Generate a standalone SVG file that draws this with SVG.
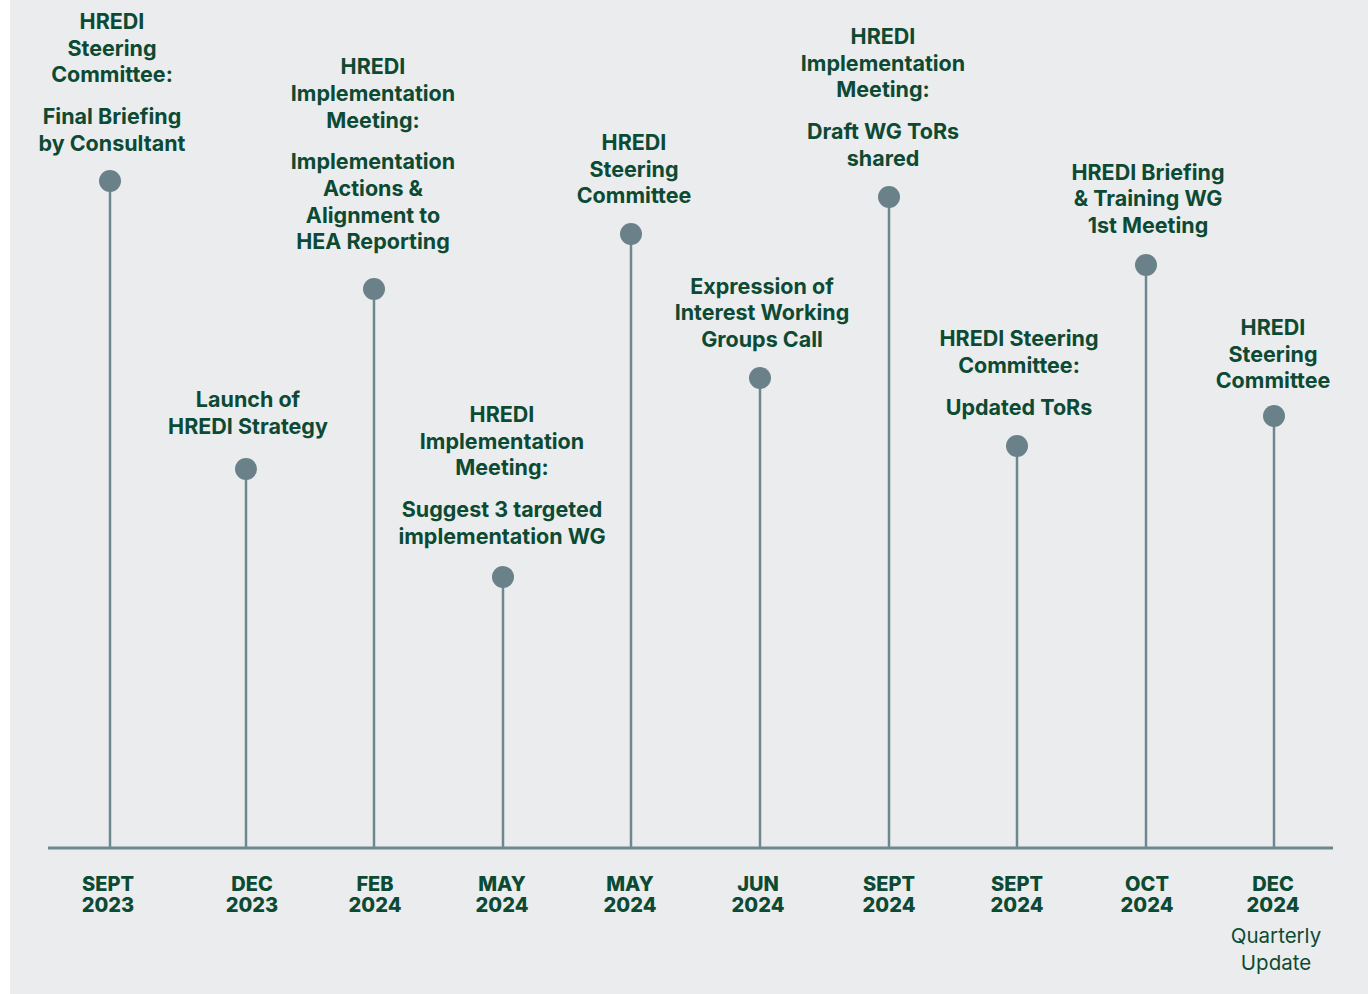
<svg xmlns="http://www.w3.org/2000/svg" width="1368" height="994" viewBox="0 0 1368 994">
<style>
.bg{fill:#ebecee}
.stem{stroke:#6e8890;stroke-width:2.5;fill:none}
.axis{stroke:#6e8890;stroke-width:3;fill:none}
.dot{fill:#6b8189}
.lbl{font-family:Inter,"Noto Sans",sans-serif;font-weight:700;font-size:21.5px;fill:#0d4a33;text-anchor:middle}
.date{font-family:Inter,"Noto Sans",sans-serif;font-weight:800;font-size:20px;fill:#0d4a33;text-anchor:middle}
.note{font-family:Inter,"Noto Sans",sans-serif;font-weight:400;font-size:20.5px;fill:#0d4a33;text-anchor:middle}
</style>
<rect x="0" y="0" width="1368" height="994" fill="#ffffff"/>
<rect class="bg" x="10" y="0" width="1358" height="994"/>
<g id="connectors">
<line class="axis" x1="48" y1="848" x2="1333" y2="848"/>
<line class="stem" x1="110" y1="181" x2="110" y2="848"/>
<line class="stem" x1="246" y1="469" x2="246" y2="848"/>
<line class="stem" x1="374" y1="289" x2="374" y2="848"/>
<line class="stem" x1="503" y1="577" x2="503" y2="848"/>
<line class="stem" x1="631" y1="234" x2="631" y2="848"/>
<line class="stem" x1="760" y1="378" x2="760" y2="848"/>
<line class="stem" x1="889" y1="197" x2="889" y2="848"/>
<line class="stem" x1="1017" y1="446" x2="1017" y2="848"/>
<line class="stem" x1="1146" y1="265" x2="1146" y2="848"/>
<line class="stem" x1="1274" y1="416" x2="1274" y2="848"/>
</g>
<g id="n1">
<circle class="dot" cx="110" cy="181" r="11"/>
<text class="lbl"><tspan x="112" y="29">HREDI</tspan><tspan x="112" y="56">Steering</tspan><tspan x="112" y="82">Committee:</tspan><tspan x="112" y="124">Final Briefing</tspan><tspan x="112" y="151">by Consultant</tspan></text>
<text class="date"><tspan x="108" y="891">SEPT</tspan><tspan x="108" y="912">2023</tspan></text>
</g>
<g id="n2">
<circle class="dot" cx="246" cy="469" r="11"/>
<text class="lbl"><tspan x="248" y="407">Launch of</tspan><tspan x="248" y="434">HREDI Strategy</tspan></text>
<text class="date"><tspan x="252" y="891">DEC</tspan><tspan x="252" y="912">2023</tspan></text>
</g>
<g id="n3">
<circle class="dot" cx="374" cy="289" r="11"/>
<text class="lbl"><tspan x="373" y="74">HREDI</tspan><tspan x="373" y="101">Implementation</tspan><tspan x="373" y="128">Meeting:</tspan><tspan x="373" y="169">Implementation</tspan><tspan x="373" y="196">Actions &amp;</tspan><tspan x="373" y="223">Alignment to</tspan><tspan x="373" y="249">HEA Reporting</tspan></text>
<text class="date"><tspan x="375" y="891">FEB</tspan><tspan x="375" y="912">2024</tspan></text>
</g>
<g id="n4">
<circle class="dot" cx="503" cy="577" r="11"/>
<text class="lbl"><tspan x="502" y="422">HREDI</tspan><tspan x="502" y="449">Implementation</tspan><tspan x="502" y="475">Meeting:</tspan><tspan x="502" y="517">Suggest 3 targeted</tspan><tspan x="502" y="544">implementation WG</tspan></text>
<text class="date"><tspan x="502" y="891">MAY</tspan><tspan x="502" y="912">2024</tspan></text>
</g>
<g id="n5">
<circle class="dot" cx="631" cy="234" r="11"/>
<text class="lbl"><tspan x="634" y="150">HREDI</tspan><tspan x="634" y="177">Steering</tspan><tspan x="634" y="203">Committee</tspan></text>
<text class="date"><tspan x="630" y="891">MAY</tspan><tspan x="630" y="912">2024</tspan></text>
</g>
<g id="n6">
<circle class="dot" cx="760" cy="378" r="11"/>
<text class="lbl"><tspan x="762" y="294">Expression of</tspan><tspan x="762" y="320">Interest Working</tspan><tspan x="762" y="347">Groups Call</tspan></text>
<text class="date"><tspan x="758" y="891">JUN</tspan><tspan x="758" y="912">2024</tspan></text>
</g>
<g id="n7">
<circle class="dot" cx="889" cy="197" r="11"/>
<text class="lbl"><tspan x="883" y="44">HREDI</tspan><tspan x="883" y="71">Implementation</tspan><tspan x="883" y="97">Meeting:</tspan><tspan x="883" y="139">Draft WG ToRs</tspan><tspan x="883" y="166">shared</tspan></text>
<text class="date"><tspan x="889" y="891">SEPT</tspan><tspan x="889" y="912">2024</tspan></text>
</g>
<g id="n8">
<circle class="dot" cx="1017" cy="446" r="11"/>
<text class="lbl"><tspan x="1019" y="346">HREDI Steering</tspan><tspan x="1019" y="373">Committee:</tspan><tspan x="1019" y="415">Updated ToRs</tspan></text>
<text class="date"><tspan x="1017" y="891">SEPT</tspan><tspan x="1017" y="912">2024</tspan></text>
</g>
<g id="n9">
<circle class="dot" cx="1146" cy="265" r="11"/>
<text class="lbl"><tspan x="1148" y="180">HREDI Briefing</tspan><tspan x="1148" y="206">&amp; Training WG</tspan><tspan x="1148" y="233">1st Meeting</tspan></text>
<text class="date"><tspan x="1147" y="891">OCT</tspan><tspan x="1147" y="912">2024</tspan></text>
</g>
<g id="n10">
<circle class="dot" cx="1274" cy="416" r="11"/>
<text class="lbl"><tspan x="1273" y="335">HREDI</tspan><tspan x="1273" y="362">Steering</tspan><tspan x="1273" y="388">Committee</tspan></text>
<text class="date"><tspan x="1273" y="891">DEC</tspan><tspan x="1273" y="912">2024</tspan></text>
<text class="note"><tspan x="1276" y="943">Quarterly</tspan><tspan x="1276" y="970">Update</tspan></text>
</g>
</svg>
